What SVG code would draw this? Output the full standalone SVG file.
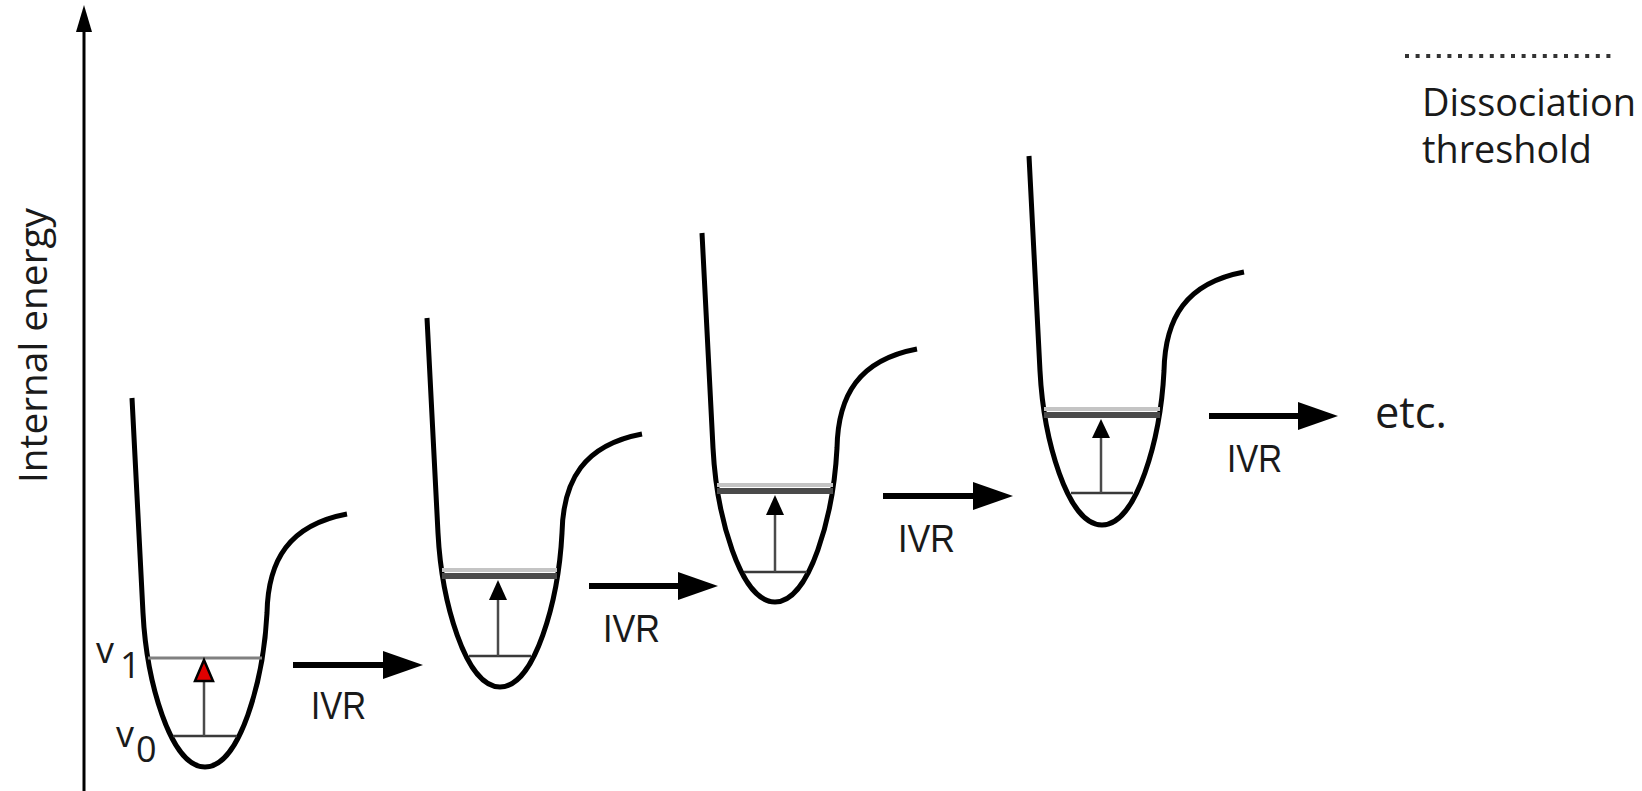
<svg xmlns="http://www.w3.org/2000/svg" xmlns:xlink="http://www.w3.org/1999/xlink" width="1642" height="791" viewBox="0 0 1642 791">
<style>
.well{fill:none;stroke:#000;stroke-width:5;stroke-linejoin:round}
.v0{stroke:#3a3a3a;stroke-width:2.5}
.stem{stroke:#4a4a4a;stroke-width:2.5}
.lvl1{stroke:#808080;stroke-width:3}
.lvlL{stroke:#c4c4c4;stroke-width:4}
.lvlD{stroke:#4a4a4a;stroke-width:6}
.ivr{stroke:#000;stroke-width:6}
.lbl{font-family:"Open Sans","Liberation Sans",sans-serif;fill:#1a1a1a}
.ivrt{font-family:"Liberation Sans",Arial,sans-serif;font-size:38px;fill:#1a1a1a}
</style>
<defs>
<path id="wellShape" class="well" d="M-73,-369 L-62,-154 C-58.5,-87 -35,0 0,0 C35,0 58.5,-87 62,-154 C63,-207 84,-242 142,-253"/>
<polygon id="ivrHead" points="0,-14 40,0 0,14" fill="#000"/>
</defs>

<g id="axis">
<line x1="84" y1="791" x2="84" y2="28" stroke="#000" stroke-width="3"/>
<polygon points="84,5 92,32 76,32" fill="#000"/>
<text class="lbl" font-size="39" transform="translate(47,483) rotate(-90)" textLength="275" lengthAdjust="spacingAndGlyphs">Internal energy</text>
</g>

<g id="legend">
<line x1="1405" y1="56" x2="1615" y2="56" stroke="#333" stroke-width="4" stroke-dasharray="4 6.6"/>
<text class="lbl" x="1422" y="116" font-size="38" textLength="214" lengthAdjust="spacingAndGlyphs">Dissociation</text>
<text class="lbl" x="1422" y="163" font-size="38" textLength="170" lengthAdjust="spacingAndGlyphs">threshold</text>
</g>

<g id="well1" transform="translate(205,767)">
<use xlink:href="#wellShape"/>
<line class="lvl1" x1="-57" y1="-109" x2="57" y2="-109"/>
<line class="v0" x1="-32" y1="-31" x2="32" y2="-31"/>
<line class="stem" x1="-1" y1="-31" x2="-1" y2="-86"/>
<polygon points="-1,-107 8,-86 -10,-86" fill="#e00000" stroke="#000" stroke-width="2.5" stroke-linejoin="miter"/>
</g>
<g id="labels-v">
<text class="lbl" x="96" y="663" font-size="36">v</text>
<text class="lbl" x="120" y="678" font-size="36">1</text>
<text class="lbl" x="116" y="747" font-size="36">v</text>
<text class="lbl" x="136" y="762" font-size="36">0</text>
</g>

<g id="well2" transform="translate(500,687)">
<use xlink:href="#wellShape"/>
<line class="lvlL" x1="-58" y1="-117" x2="57" y2="-117"/>
<line class="lvlD" x1="-58" y1="-111" x2="57" y2="-111"/>
<line class="v0" x1="-31" y1="-31" x2="31" y2="-31"/>
<line class="stem" x1="-2" y1="-31" x2="-2" y2="-88"/>
<polygon points="-2,-107 7,-87 -11,-87" fill="#000"/>
</g>

<g id="well3" transform="translate(775,602)">
<use xlink:href="#wellShape"/>
<line class="lvlL" x1="-58" y1="-117" x2="58" y2="-117"/>
<line class="lvlD" x1="-58" y1="-111" x2="58" y2="-111"/>
<line class="v0" x1="-31" y1="-30" x2="32" y2="-30"/>
<line class="stem" x1="0" y1="-30" x2="0" y2="-88"/>
<polygon points="0,-107 9,-87 -9,-87" fill="#000"/>
</g>

<g id="well4" transform="translate(1102,525)">
<use xlink:href="#wellShape"/>
<line class="lvlL" x1="-58" y1="-116" x2="58" y2="-116"/>
<line class="lvlD" x1="-58" y1="-110" x2="58" y2="-110"/>
<line class="v0" x1="-31" y1="-32" x2="31" y2="-32"/>
<line class="stem" x1="-1" y1="-32" x2="-1" y2="-88"/>
<polygon points="-1,-106 8,-87 -10,-87" fill="#000"/>
</g>

<g id="connectors">
<g transform="translate(293,665)">
<line class="ivr" x1="0" y1="0" x2="92" y2="0"/>
<use xlink:href="#ivrHead" x="90"/>
</g>
<g transform="translate(589,586)">
<line class="ivr" x1="0" y1="0" x2="92" y2="0"/>
<use xlink:href="#ivrHead" x="89"/>
</g>
<g transform="translate(883,496)">
<line class="ivr" x1="0" y1="0" x2="92" y2="0"/>
<use xlink:href="#ivrHead" x="90"/>
</g>
<g transform="translate(1209,416)">
<line class="ivr" x1="0" y1="0" x2="92" y2="0"/>
<use xlink:href="#ivrHead" x="89"/>
</g>
</g>

<g id="ivr-labels">
<text class="ivrt" x="311" y="719" textLength="55" lengthAdjust="spacingAndGlyphs">IVR</text>
<text class="ivrt" x="603" y="642" textLength="57" lengthAdjust="spacingAndGlyphs">IVR</text>
<text class="ivrt" x="898" y="552" textLength="57" lengthAdjust="spacingAndGlyphs">IVR</text>
<text class="ivrt" x="1227" y="472" textLength="55" lengthAdjust="spacingAndGlyphs">IVR</text>
<text class="lbl" x="1375" y="428" font-size="44" textLength="72" lengthAdjust="spacingAndGlyphs">etc.</text>
</g>
</svg>
